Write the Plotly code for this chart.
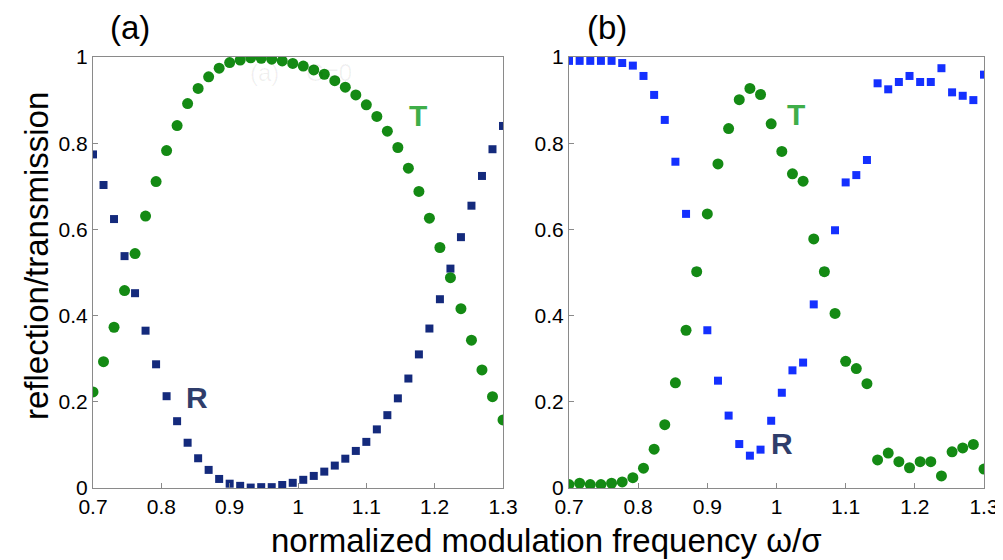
import numpy as np
import plotly.graph_objects as go

# ---- data ----
freq = list(np.linspace(0.7, 1.3, 40))

T_a = [0.223, 0.293, 0.373, 0.458, 0.544, 0.631, 0.711, 0.783, 0.841, 0.892,
       0.927, 0.954, 0.974, 0.987, 0.993, 0.998, 0.997, 0.995, 0.991, 0.985,
       0.979, 0.970, 0.960, 0.945, 0.930, 0.912, 0.889, 0.862, 0.828, 0.790,
       0.742, 0.688, 0.626, 0.558, 0.488, 0.416, 0.343, 0.274, 0.212, 0.158]
R_a = [0.774, 0.703, 0.624, 0.538, 0.452, 0.365, 0.287, 0.213, 0.155, 0.105,
       0.069, 0.042, 0.021, 0.010, 0.005, 0.001, 0.002, 0.002, 0.007, 0.012,
       0.019, 0.028, 0.038, 0.052, 0.068, 0.086, 0.107, 0.136, 0.169, 0.208,
       0.254, 0.310, 0.370, 0.438, 0.509, 0.582, 0.655, 0.724, 0.786, 0.840]

T_b = [0.008, 0.011, 0.008, 0.008, 0.011, 0.014, 0.024, 0.046, 0.090, 0.147,
       0.244, 0.366, 0.502, 0.636, 0.752, 0.834, 0.901, 0.927, 0.913, 0.845,
       0.781, 0.729, 0.712, 0.578, 0.502, 0.405, 0.294, 0.277, 0.242, 0.065,
       0.081, 0.061, 0.047, 0.061, 0.061, 0.028, 0.084, 0.093, 0.101, 0.044]
R_b = [0.991, 0.991, 0.991, 0.991, 0.991, 0.986, 0.980, 0.956, 0.912, 0.854,
       0.757, 0.636, 0.502, 0.366, 0.249, 0.168, 0.102, 0.075, 0.089, 0.156,
       0.221, 0.273, 0.291, 0.426, 0.502, 0.598, 0.709, 0.726, 0.761, 0.939,
       0.925, 0.942, 0.956, 0.942, 0.942, 0.974, 0.918, 0.910, 0.900, 0.959]

x_ticks = [0.7, 0.8, 0.9, 1.0, 1.1, 1.2, 1.3]
y_ticks = [0, 0.2, 0.4, 0.6, 0.8, 1.0]

GREEN = "#148a14"
NAVY = "#142a7c"
BLUE = "#1430ff"
FONT = "Liberation Sans, Arial, sans-serif"

# page body has an 8px margin: lay out in a 995x552 figure offset by 8px
OFF = 8
W, H = 1003 - OFF, 560 - OFF


def px(x):
    return (x - OFF) / W


def py(y):
    return 1 - (y - OFF) / H


fig = go.Figure()
fig.add_trace(go.Scatter(x=freq, y=R_a, mode="markers", xaxis="x", yaxis="y",
                         marker=dict(symbol="square", size=8, color=NAVY), showlegend=False))
fig.add_trace(go.Scatter(x=freq, y=T_a, mode="markers", xaxis="x", yaxis="y",
                         marker=dict(symbol="circle", size=11, color=GREEN), showlegend=False))
fig.add_trace(go.Scatter(x=freq, y=R_b, mode="markers", xaxis="x2", yaxis="y2",
                         marker=dict(symbol="square", size=8, color=BLUE), showlegend=False))
fig.add_trace(go.Scatter(x=freq, y=T_b, mode="markers", xaxis="x2", yaxis="y2",
                         marker=dict(symbol="circle", size=11, color=GREEN), showlegend=False))

axis_common = dict(showgrid=False, zeroline=False, showline=True, mirror=True,
                   linecolor="#8a8a8a", linewidth=1, ticks="inside", ticklen=5,
                   tickcolor="#8a8a8a", automargin=False,
                   tickfont=dict(family=FONT, size=21, color="black"))

yd = [py(488), py(57)]
fig.update_layout(
    width=W, height=H,
    margin=dict(l=0, r=0, t=0, b=0, autoexpand=False),
    paper_bgcolor="white", plot_bgcolor="white",
    xaxis=dict(domain=[px(93), px(503)], range=[0.7, 1.3], tickvals=x_ticks,
               anchor="y", **axis_common),
    yaxis=dict(domain=yd, range=[0, 1], tickvals=y_ticks, anchor="x", **axis_common),
    xaxis2=dict(domain=[px(569), px(984)], range=[0.7, 1.3], tickvals=x_ticks,
                anchor="y2", **axis_common),
    yaxis2=dict(domain=yd, range=[0, 1], tickvals=y_ticks, anchor="x2", **axis_common),
)

C = dict(showarrow=False, xanchor="center", yanchor="middle")
ann = [
    dict(text="T", x=1.176, y=0.865, xref="x", yref="y",
         font=dict(family=FONT, size=30, color="#3fae49", weight="bold"), **C),
    dict(text="R", x=0.852, y=0.209, xref="x", yref="y",
         font=dict(family=FONT, size=30, color="#2f3d6b", weight="bold"), **C),
    dict(text="T", x=1.028, y=0.867, xref="x2", yref="y2",
         font=dict(family=FONT, size=30, color="#3fae49", weight="bold"), **C),
    dict(text="R", x=1.008, y=0.103, xref="x2", yref="y2",
         font=dict(family=FONT, size=30, color="#2f3d6b", weight="bold"), **C),
    dict(text="(a)    G=0", x=1.005, y=0.965, xref="x", yref="y",
         font=dict(family=FONT, size=24, color="rgba(0,0,0,0.06)"), **C),
    dict(text="(a)", x=px(130), y=py(27), xref="paper", yref="paper",
         font=dict(family=FONT, size=33, color="black"), **C),
    dict(text="(b)", x=px(607), y=py(27), xref="paper", yref="paper",
         font=dict(family=FONT, size=33, color="black"), **C),
    dict(text="normalized modulation frequency ω/σ", x=px(546), y=py(540),
         xref="paper", yref="paper",
         font=dict(family=FONT, size=33, color="black"), **C),
    dict(text="reflection/transmission", x=px(36), y=py(256),
         xref="paper", yref="paper", textangle=-90,
         font=dict(family=FONT, size=33, color="black"), **C),
]
fig.update_layout(annotations=ann)

fig.write_html("out.html")
